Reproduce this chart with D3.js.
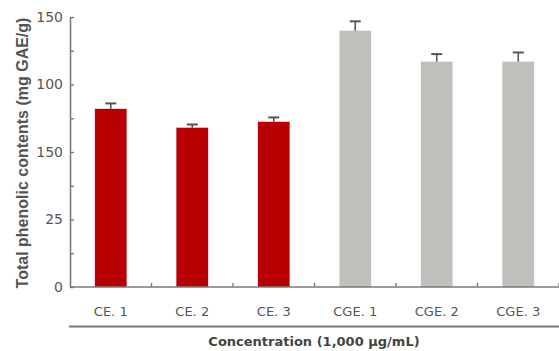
<!DOCTYPE html>
<html>
<head>
<meta charset="utf-8">
<script src="https://cdn.jsdelivr.net/npm/d3@7"></script>
<style>
  body { margin: 0; background: #fff; }
  #chart { width: 559px; height: 351px; }
</style>
</head>
<body>
<div id="chart"></div>
<script>
const categories = ['CE. 1', 'CE. 2', 'CE. 3', 'CGE. 1', 'CGE. 2', 'CGE. 3'];
const groups = ['CE', 'CE', 'CE', 'CGE', 'CGE', 'CGE'];
const values = [99, 88.5, 91.8, 142.4, 125.2, 125.2];
const errors = [3, 1.8, 2.4, 5.2, 4.2, 5.1];
// tick labels as printed in the figure (every other tick)
const tickValues = [0, 18.75, 37.5, 56.25, 75, 93.75, 112.5, 131.25, 150];
const tickLabels = ['0', '', '25', '', '150', '', '100', '', '150'];

const W = 559, H = 351;
const margin = { top: 17, right: 0, bottom: 64, left: 70 };
const innerH = H - margin.top - margin.bottom;
const innerW = W - margin.left - margin.right;
const colors = { CE: '#b80004', CGE: '#bfbfbb' };
const axisColor = '#7a7a7a';
const textColor = '#555';
const font = 'DejaVu Sans, sans-serif';

const svg = d3.select('#chart').append('svg').attr('width', W).attr('height', H);
const g = svg.append('g').attr('transform', `translate(${margin.left},${margin.top})`);

const x = d3.scaleBand().domain(categories).range([0, innerW]).paddingInner(0.61).paddingOuter(0.305);
const xb = d3.scaleBand().domain(categories).range([0, innerW]);
const y = d3.scaleLinear().domain([0, 150]).range([innerH, 0]);

// bars
g.selectAll('rect.bar')
  .data(categories)
  .join('rect')
  .attr('class', 'bar')
  .attr('x', (d) => x(d))
  .attr('width', x.bandwidth())
  .attr('y', (d, i) => y(values[i]))
  .attr('height', (d, i) => innerH - y(values[i]))
  .attr('fill', (d, i) => colors[groups[i]]);

// error bars
const eb = g.selectAll('g.err').data(categories).join('g').attr('class', 'err');
eb.append('line')
  .attr('x1', (d) => x(d) + x.bandwidth() / 2)
  .attr('x2', (d) => x(d) + x.bandwidth() / 2)
  .attr('y1', (d, i) => y(values[i]))
  .attr('y2', (d, i) => y(values[i] + errors[i]))
  .attr('stroke', '#555').attr('stroke-width', 1.6);
eb.append('line')
  .attr('x1', (d) => x(d) + x.bandwidth() / 2 - 5.5)
  .attr('x2', (d) => x(d) + x.bandwidth() / 2 + 5.5)
  .attr('y1', (d, i) => y(values[i] + errors[i]))
  .attr('y2', (d, i) => y(values[i] + errors[i]))
  .attr('stroke', '#555').attr('stroke-width', 2);

// y axis
g.append('g')
  .call(d3.axisLeft(y).tickValues(tickValues).tickSize(-4).tickSizeOuter(0).tickPadding(7)
    .tickFormat((d, i) => tickLabels[i]))
  .call((a) => a.select('.domain').attr('stroke', axisColor).attr('stroke-width', 1.6))
  .call((a) => a.selectAll('line').attr('stroke', axisColor).attr('stroke-width', 1.4))
  .call((a) => a.selectAll('text').attr('fill', textColor).style('font-family', font).style('font-size', '14px'));

// x axis with ticks between bands
const xAxis = g.append('g').attr('transform', `translate(0,${innerH})`);
xAxis.append('line').attr('x1', 0).attr('x2', innerW).attr('y1', 0).attr('y2', 0)
  .attr('stroke', axisColor).attr('stroke-width', 1.6);
xAxis.selectAll('line.tk')
  .data(categories)
  .join('line')
  .attr('class', 'tk')
  .attr('x1', (d) => xb(d) + xb.bandwidth())
  .attr('x2', (d) => xb(d) + xb.bandwidth())
  .attr('y1', 0).attr('y2', -4)
  .attr('stroke', axisColor).attr('stroke-width', 1.4);
xAxis.selectAll('text.cat')
  .data(categories)
  .join('text')
  .attr('class', 'cat')
  .attr('x', (d) => xb(d) + xb.bandwidth() / 2)
  .attr('y', 29)
  .attr('text-anchor', 'middle')
  .attr('fill', textColor)
  .style('font-family', font)
  .style('font-size', '13px')
  .text((d) => d);

// separator line and x title
svg.append('line')
  .attr('x1', 69).attr('x2', W).attr('y1', 326.5).attr('y2', 326.5)
  .attr('stroke', axisColor).attr('stroke-width', 2);
svg.append('text')
  .attr('x', 314).attr('y', 346)
  .attr('text-anchor', 'middle')
  .attr('fill', '#444')
  .style('font-family', font)
  .style('font-size', '13px')
  .style('font-weight', 700)
  .text('Concentration (1,000 μg/mL)');

// y title
svg.append('text')
  .attr('transform', `translate(28,153) rotate(-90)`)
  .attr('text-anchor', 'middle')
  .attr('fill', textColor)
  .style('font-family', 'Liberation Sans, Arial, sans-serif')
  .style('font-size', '16px')
  .style('font-weight', 700)
  .text('Total phenolic contents (mg GAE/g)');
</script>
</body>
</html>
